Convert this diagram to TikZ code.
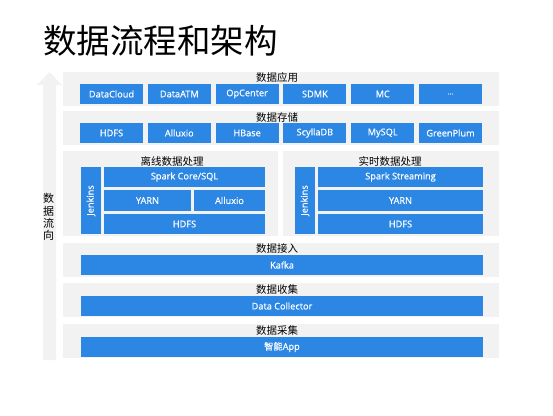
\documentclass[tikz,border=0pt]{standalone}
\usepackage{fontspec}
\setmainfont{Open Sans}
\newfontfamily\cjk{Noto Sans CJK SC}
\newfontfamily\boxfont[FakeBold=0.6]{Open Sans}
\newfontfamily\boxcjk[FakeBold=0.6]{Noto Sans CJK SC}
\definecolor{boxblue}{RGB}{43,135,227}
\definecolor{panelgray}{RGB}{242,242,242}
\tikzset{
  panel/.style={fill=panelgray, draw=none},
  bbox/.style={fill=boxblue, draw=none, text=white, font=\boxfont\fontsize{9.2}{10}\selectfont,
    inner sep=0pt, minimum height=20pt},
  sectlabel/.style={font=\cjk\fontsize{10.5}{11}\selectfont, text=black, inner sep=0pt},
}
\begin{document}
\begin{tikzpicture}[x=1pt,y=-1pt]
\useasboundingbox (0,0) rectangle (553,415);
% title
\node[font=\cjk\fontsize{33.5}{36}\selectfont, text=black, inner sep=0pt] (title) at (160.5,41) {数据流程和架构};
% flow arrow
\fill[panelgray] (43,360) -- (43,85) -- (37,85) -- (49.5,72) -- (62,85) -- (56,85) -- (56,360) -- cycle;
\node[font=\cjk\fontsize{11}{12.3}\selectfont, align=center, inner sep=0pt, text=black] (flow) at (48.5,217) {数\\据\\流\\向};
% panels
\path[panel] (63,72) rectangle (499,106);
\path[panel] (63,111) rectangle (499,145);
\path[panel] (63,151) rectangle (278,236);
\path[panel] (283,151) rectangle (499,236);
\path[panel] (63,243) rectangle (499,277);
\path[panel] (63,283) rectangle (499,317);
\path[panel] (63,324) rectangle (499,358);
% section labels
\node[sectlabel] (lapp) at (277,78) {数据应用};
\node[sectlabel] (lsto) at (277,117.5) {数据存储};
\node[sectlabel] (loff) at (172,161.5) {离线数据处理};
\node[sectlabel] (lrt) at (390,161.5) {实时数据处理};
\node[sectlabel] (lin) at (277,249) {数据接入};
\node[sectlabel] (lcol) at (277,290) {数据收集};
\node[sectlabel] (lacq) at (277,331) {数据采集};
% row 1 applications
\node[bbox, minimum width=63pt] (a1) at (111.5,94) {DataCloud};
\node[bbox, minimum width=63pt] (a2) at (179.3,94) {DataATM};
\node[bbox, minimum width=63pt] (a3) at (247.1,94) {OpCenter};
\node[bbox, minimum width=63pt] (a4) at (314.9,94) {SDMK};
\node[bbox, minimum width=63pt] (a5) at (382.7,94) {MC};
\node[bbox, minimum width=63pt] (a6) at (450.5,94) {\fontsize{7}{8}\selectfont ...};
% row 2 storage
\node[bbox, minimum width=63pt] (s1) at (111.5,133) {HDFS};
\node[bbox, minimum width=63pt] (s2) at (179.3,133) {Alluxio};
\node[bbox, minimum width=63pt] (s3) at (247.1,133) {HBase};
\node[bbox, minimum width=63pt] (s4) at (314.9,133) {ScyllaDB};
\node[bbox, minimum width=63pt] (s5) at (382.7,133) {MySQL};
\node[bbox, minimum width=63pt] (s6) at (450.5,133) {GreenPlum};
% offline processing
\node[bbox, minimum width=67pt, rotate=90] (jl) at (91,200.5) {Jenkins};
\node[bbox, minimum width=161pt] (spl) at (184.5,177) {Spark Core/SQL};
\node[bbox, minimum width=87pt, minimum height=21pt] (yl) at (147.5,200.5) {YARN};
\node[bbox, minimum width=71pt, minimum height=21pt] (al) at (229.5,200.5) {Alluxio};
\node[bbox, minimum width=161pt] (hl) at (184.5,224) {HDFS};
% realtime processing
\node[bbox, minimum width=67pt, rotate=90] (jr) at (305,200.5) {Jenkins};
\node[bbox, minimum width=165pt] (spr) at (400.5,177) {Spark Streaming};
\node[bbox, minimum width=165pt, minimum height=21pt] (yr) at (400.5,200.5) {YARN};
\node[bbox, minimum width=165pt] (hr) at (400.5,224) {HDFS};
% bottom layers
\node[bbox, minimum width=402pt] (kafka) at (282,265) {Kafka};
\node[bbox, minimum width=402pt] (dcol) at (282,306) {Data Collector};
\node[bbox, minimum width=402pt] (app) at (282,347) {{\boxcjk 智能}App};
\end{tikzpicture}
\end{document}
